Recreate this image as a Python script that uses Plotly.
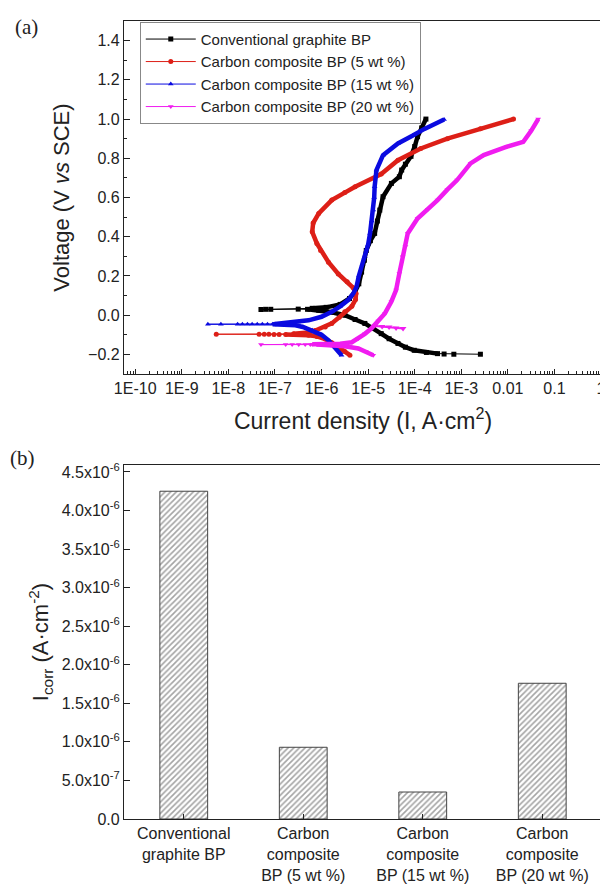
import plotly.graph_objects as go

FONT = "Arial, 'Liberation Sans', Helvetica, sans-serif"
SERIF = "'Times New Roman', 'Liberation Serif', 'DejaVu Serif', serif"

# ---------------- (a) Tafel / polarization curves ----------------
series_names = [
    "Conventional graphite BP",
    "Carbon composite BP (5 wt %)",
    "Carbon composite BP (15 wt %)",
    "Carbon composite BP (20 wt %)",
]

graphite_i = [2.57e-3, 6.92e-4, 4.27e-4, 3.09e-4, 1.78e-4, 9.77e-5, 6.31e-5, 4.37e-5, 2.82e-5,
              1.91e-5, 1.26e-5, 8.51e-6, 5.25e-6, 3.16e-6, 1.66e-6, 8.71e-7, 5.01e-7,
              3.16e-7, 8.13e-8, 6.31e-8, 5.01e-8,
              6.31e-7, 1.26e-6, 2.51e-6, 3.98e-6, 5.25e-6, 6.31e-6, 7.24e-6, 8.32e-6, 9.12e-6,
              1.12e-5, 1.38e-5, 1.58e-5, 1.78e-5, 2.09e-5, 3.16e-5, 4.68e-5, 5.25e-5, 6.31e-5,
              8.32e-5, 1.0e-4, 1.15e-4, 1.41e-4, 1.74e-4]
graphite_v = [-0.199, -0.199, -0.198, -0.196, -0.19, -0.179, -0.163, -0.144, -0.12,
              -0.094, -0.067, -0.042, -0.022, 0.0, 0.015, 0.025, 0.03,
              0.031, 0.030, 0.030, 0.029,
              0.035, 0.04, 0.055, 0.085, 0.12, 0.16, 0.22, 0.28, 0.33,
              0.38, 0.417, 0.48, 0.536, 0.604, 0.672, 0.706, 0.74, 0.77,
              0.81, 0.86, 0.91, 0.955, 1.0]

cc5_i = [4.07e-6, 3.16e-6, 2.29e-6, 1.66e-6, 1.20e-6, 7.94e-7, 5.25e-7, 3.16e-7, 1.70e-7,
         1.23e-7, 9.55e-8, 7.41e-8, 5.89e-8, 4.57e-8, 5.50e-9,
         2.51e-7, 5.25e-7, 7.41e-7, 1.20e-6, 1.66e-6, 2.40e-6, 3.16e-6, 4.47e-6, 5.37e-6,
         5.50e-6, 4.79e-6, 3.55e-6, 2.29e-6, 1.41e-6, 9.55e-7, 7.94e-7, 6.31e-7, 6.61e-7,
         8.71e-7, 1.66e-6, 3.16e-6, 5.25e-6, 1.91e-5, 4.37e-5, 1.35e-4, 5.01e-4, 2.57e-3,
         1.32e-2]
cc5_v = [-0.204, -0.185, -0.162, -0.14, -0.122, -0.108, -0.102, -0.099, -0.098,
         -0.098, -0.098, -0.097, -0.097, -0.097, -0.097,
         -0.095, -0.088, -0.078, -0.06, -0.042, -0.01, 0.017, 0.045, 0.08,
         0.11, 0.14, 0.17, 0.21, 0.27, 0.33, 0.366, 0.425, 0.47,
         0.519, 0.587, 0.625, 0.655, 0.72, 0.79, 0.85, 0.90, 0.95,
         1.0]

cc15_i = [2.69e-6, 2.0e-6, 1.41e-6, 1.0e-6, 6.31e-7, 3.98e-7, 2.75e-7, 1.58e-7, 8.91e-8,
          6.92e-8, 5.37e-8, 4.17e-8, 3.24e-8, 2.57e-8, 2.0e-8, 1.58e-8, 6.92e-9, 3.63e-9,
          1.0e-7, 1.45e-7, 3.16e-7, 5.25e-7, 1.0e-6, 1.66e-6, 2.51e-6, 3.72e-6, 4.79e-6,
          5.62e-6, 6.31e-6, 7.59e-6, 8.51e-6, 1.0e-5, 1.10e-5, 1.20e-5, 1.29e-5, 1.35e-5,
          1.38e-5, 1.51e-5, 2.09e-5, 4.37e-5, 8.91e-5, 1.62e-4, 4.27e-4]
cc15_v = [-0.204, -0.165, -0.128, -0.1, -0.077, -0.06, -0.051, -0.047, -0.046,
          -0.046, -0.046, -0.046, -0.046, -0.046, -0.046, -0.046, -0.046, -0.046,
          -0.045, -0.042, -0.035, -0.026, -0.008, 0.017, 0.045, 0.077, 0.11,
          0.144, 0.2, 0.26, 0.298, 0.36, 0.417, 0.48, 0.536, 0.6,
          0.655, 0.74, 0.816, 0.876, 0.915, 0.95, 0.998]

cc20_i = [1.29e-5, 8.91e-6, 6.17e-6, 3.16e-6, 1.58e-6, 7.94e-7,
          5.75e-7, 4.47e-7, 3.24e-7, 2.34e-7, 1.70e-7, 5.01e-8,
          6.31e-7, 1.26e-6, 2.51e-6, 4.47e-6, 6.17e-6, 8.51e-6, 1.17e-5, 1.66e-5, 2.29e-5,
          3.16e-5, 3.98e-5, 4.68e-5, 5.50e-5, 6.31e-5, 7.08e-5, 1.15e-4, 1.91e-4, 3.09e-4,
          5.01e-4, 8.13e-4, 1.58e-3, 3.02e-3, 9.55e-3, 2.14e-2, 3.16e-2, 4.47e-2]
cc20_v = [-0.204, -0.185, -0.17, -0.158, -0.152, -0.15,
          -0.15, -0.15, -0.15, -0.15, -0.15, -0.15,
          -0.148, -0.147, -0.145, -0.138, -0.119, -0.095, -0.068, -0.03, 0.009,
          0.07, 0.128, 0.213, 0.298, 0.35, 0.417, 0.493, 0.54, 0.587,
          0.64, 0.689, 0.774, 0.816, 0.859, 0.884, 0.94, 1.0]
cc20_tail_i = [1.41e-5, 2.0e-5, 2.82e-5, 3.98e-5, 5.62e-5]
cc20_tail_v = [-0.055, -0.058, -0.06, -0.065, -0.068]

x_tick_vals = [1e-10, 1e-9, 1e-8, 1e-7, 1e-6, 1e-5, 1e-4, 1e-3, 1e-2, 1e-1, 1]
x_tick_text = ["1E-10", "1E-9", "1E-8", "1E-7", "1E-6", "1E-5", "1E-4", "1E-3", "0.01", "0.1", "1"]
v_tick_vals = [-0.2, 0.0, 0.2, 0.4, 0.6, 0.8, 1.0, 1.2, 1.4]

# ---------------- (b) corrosion current density ----------------
bar_categories = ["Conventional graphite BP", "Carbon composite BP (5 wt %)",
                  "Carbon composite BP (15 wt %)", "Carbon composite BP (20 wt %)"]
bar_labels = ["Conventional<br>graphite BP", "Carbon<br>composite<br>BP (5 wt %)",
              "Carbon<br>composite<br>BP (15 wt %)", "Carbon<br>composite<br>BP (20 wt %)"]
icorr_values = [4.25e-6, 0.93e-6, 0.35e-6, 1.76e-6]
icorr_tick_vals = [0, 0.5e-6, 1.0e-6, 1.5e-6, 2.0e-6, 2.5e-6, 3.0e-6, 3.5e-6, 4.0e-6, 4.5e-6]
icorr_tick_text = ["0.0", "5.0x10<sup>-7</sup>", "1.0x10<sup>-6</sup>", "1.5x10<sup>-6</sup>",
                   "2.0x10<sup>-6</sup>", "2.5x10<sup>-6</sup>", "3.0x10<sup>-6</sup>",
                   "3.5x10<sup>-6</sup>", "4.0x10<sup>-6</sup>", "4.5x10<sup>-6</sup>"]

colors = ["#000000", "#dd1f17", "#0a0ae0", "#f01cf0"]
symbols = ["square", "circle", "triangle-up", "triangle-down"]
data = [(graphite_i, graphite_v), (cc5_i, cc5_v), (cc15_i, cc15_v), (cc20_i, cc20_v)]
# index ranges of densely sampled parts (drawn as a thick band)
dense_ranges = [[(3, 17), (21, 44)], [(0, 9), (15, 43)], [(0, 9), (18, 43)], [(0, 6), (12, 38)]]

fig = go.Figure()

for name, (ci, cv), col, sym in zip(series_names, data, colors, symbols):
    fig.add_trace(go.Scatter(
        x=ci, y=cv, mode="lines+markers", name=name,
        line=dict(color=col, width=1),
        marker=dict(symbol=sym, size=5, color=col),
        xaxis="x", yaxis="y"))

fig.add_trace(go.Scatter(
    x=cc20_tail_i, y=cc20_tail_v, mode="lines+markers", showlegend=False,
    line=dict(color=colors[3], width=2), marker=dict(symbol="triangle-down", size=6, color=colors[3]),
    xaxis="x", yaxis="y"))

for (ci, cv), col, ranges in zip(data, colors, dense_ranges):
    tx, ty = [], []
    for a, b in ranges:
        tx += ci[a:b] + [None]
        ty += cv[a:b] + [None]
    fig.add_trace(go.Scatter(
        x=tx, y=ty, mode="lines", showlegend=False, hoverinfo="skip",
        line=dict(color=col, width=4.5), connectgaps=False,
        xaxis="x", yaxis="y"))

fig.add_trace(go.Bar(
    x=bar_categories, y=icorr_values, width=0.4, showlegend=False,
    marker=dict(color="white", line=dict(color="#444444", width=1),
                pattern=dict(shape="/", fgcolor="#4a4a4a", bgcolor="white", size=4, solidity=0.4)),
    xaxis="x2", yaxis="y2"))

axis_common = dict(showline=True, mirror=True, linecolor="#222222", linewidth=1.2,
                   ticks="inside", tickcolor="#222222", showgrid=False, zeroline=False,
                   tickfont=dict(family=FONT, size=16, color="#222222"))

# page body adds an 8px offset, so the figure is 8px smaller and margins shifted
fig.update_layout(
    width=600, height=883,
    margin=dict(l=116, r=2, t=13, b=72),
    paper_bgcolor="white", plot_bgcolor="white",
    font=dict(family=FONT, color="#222222"),
    xaxis=dict(type="log", range=[-10.24, 0.02], domain=[0, 1], anchor="y",
               tickmode="array", tickvals=x_tick_vals, ticktext=x_tick_text, ticklen=5,
               ticklabeloverflow="allow",
               minor=dict(ticks="inside", ticklen=3, dtick="D1", tickcolor="#222222"),
               title=dict(text="Current density (I, A·cm<sup>2</sup>)",
                          font=dict(family=FONT, size=23), standoff=16),
               **axis_common),
    yaxis=dict(range=[-0.30, 1.50], domain=[0.5576, 1.0], anchor="x",
               tickmode="array", tickvals=v_tick_vals, tickformat=".1f", ticklen=6,
               minor=dict(ticks="inside", ticklen=3, dtick=0.1, tick0=0, tickcolor="#222222"),
               title=dict(text="Voltage (V <i>vs</i> SCE)",
                          font=dict(family=FONT, size=22), standoff=12),
               **axis_common),
    xaxis2=dict(domain=[0, 1], anchor="y2", range=[-0.5, 3.5],
                tickmode="array", tickvals=bar_categories, ticktext=bar_labels, ticklen=5,
                **axis_common),
    yaxis2=dict(domain=[0, 0.4436], anchor="x2", range=[0, 4.59e-6],
                tickmode="array", tickvals=icorr_tick_vals, ticktext=icorr_tick_text, ticklen=6,
                title=dict(text="I<sub>corr</sub> (A·cm<sup>-2</sup>)",
                           font=dict(family=FONT, size=22), standoff=6),
                **axis_common),
    legend=dict(x=0.033, y=0.999, xanchor="left", yanchor="top",
                bgcolor="white", bordercolor="#888888", borderwidth=1,
                font=dict(family=FONT, size=15, color="#222222"),
                itemwidth=50, tracegroupgap=0),
    annotations=[
        dict(text="(a)", x=-0.232, y=0.9925, xref="paper", yref="paper",
             xanchor="left", yanchor="middle", showarrow=False,
             font=dict(family=SERIF, size=21, color="#222222")),
        dict(text="(b)", x=-0.243, y=0.452, xref="paper", yref="paper",
             xanchor="left", yanchor="middle", showarrow=False,
             font=dict(family=SERIF, size=21, color="#222222")),
    ],
)

fig.write_html("out.html")
